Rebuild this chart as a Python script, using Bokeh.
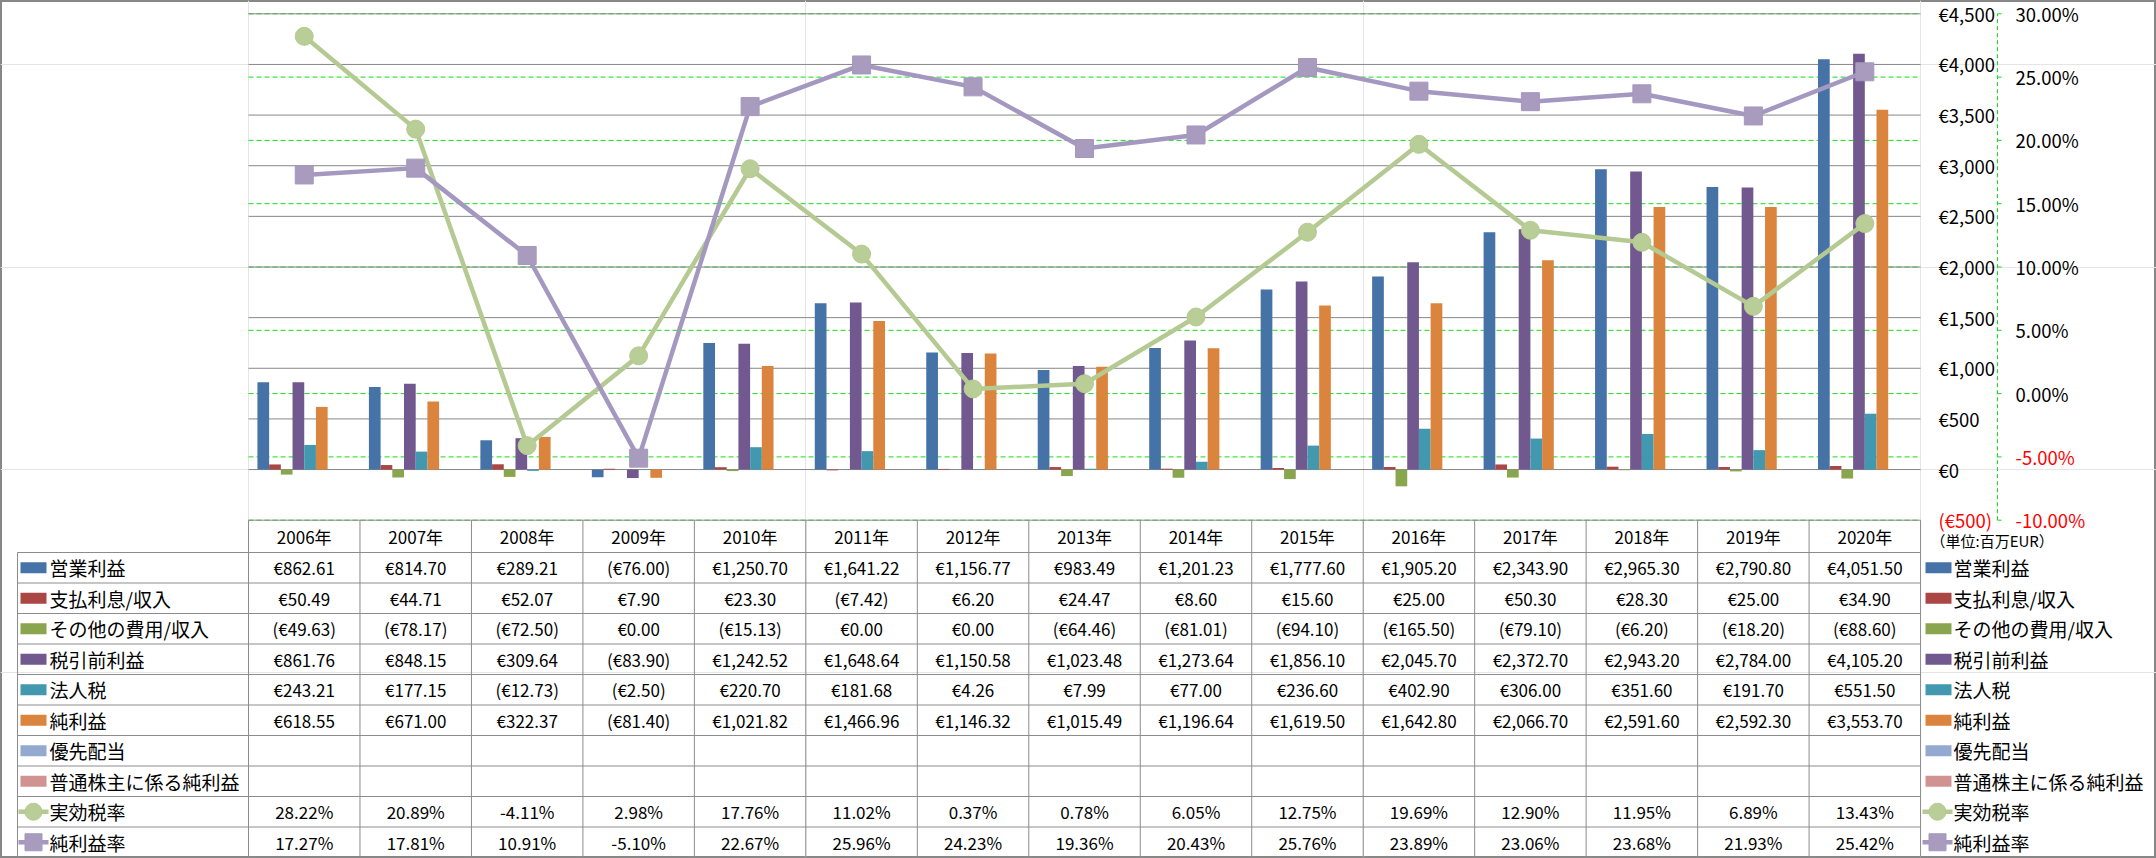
from bokeh.plotting import figure
from bokeh.models import Range1d
from bokeh.core.properties import value
from bokeh.embed import file_html
from bokeh.resources import INLINE

# ---------------- data ----------------
years = ["2006年", "2007年", "2008年", "2009年", "2010年", "2011年", "2012年", "2013年",
         "2014年", "2015年", "2016年", "2017年", "2018年", "2019年", "2020年"]
operating_income = [862.61, 814.70, 289.21, -76.00, 1250.70, 1641.22, 1156.77, 983.49,
                    1201.23, 1777.60, 1905.20, 2343.90, 2965.30, 2790.80, 4051.50]
interest = [50.49, 44.71, 52.07, 7.90, 23.30, -7.42, 6.20, 24.47,
            8.60, 15.60, 25.00, 50.30, 28.30, 25.00, 34.90]
other_expense = [-49.63, -78.17, -72.50, 0.00, -15.13, 0.00, 0.00, -64.46,
                 -81.01, -94.10, -165.50, -79.10, -6.20, -18.20, -88.60]
pretax_income = [861.76, 848.15, 309.64, -83.90, 1242.52, 1648.64, 1150.58, 1023.48,
                 1273.64, 1856.10, 2045.70, 2372.70, 2943.20, 2784.00, 4105.20]
income_tax = [243.21, 177.15, -12.73, -2.50, 220.70, 181.68, 4.26, 7.99,
              77.00, 236.60, 402.90, 306.00, 351.60, 191.70, 551.50]
net_income = [618.55, 671.00, 322.37, -81.40, 1021.82, 1466.96, 1146.32, 1015.49,
              1196.64, 1619.50, 1642.80, 2066.70, 2591.60, 2592.30, 3553.70]
preferred_dividends = []
net_income_common = []
effective_tax_rate = [28.22, 20.89, -4.11, 2.98, 17.76, 11.02, 0.37, 0.78,
                      6.05, 12.75, 19.69, 12.90, 11.95, 6.89, 13.43]
net_margin = [17.27, 17.81, 10.91, -5.10, 22.67, 25.96, 24.23, 19.36,
              20.43, 25.76, 23.89, 23.06, 23.68, 21.93, 25.42]

eur_ticks = [-500, 0, 500, 1000, 1500, 2000, 2500, 3000, 3500, 4000, 4500]
pct_ticks = [-10, -5, 0, 5, 10, 15, 20, 25, 30]
unit_label = "（単位:百万EUR）"

bar_series = [
    ("営業利益", operating_income, "#4572A7"),
    ("支払利息/収入", interest, "#AA4643"),
    ("その他の費用/収入", other_expense, "#89A54E"),
    ("税引前利益", pretax_income, "#71588F"),
    ("法人税", income_tax, "#4198AF"),
    ("純利益", net_income, "#DB843D"),
    ("優先配当", preferred_dividends, "#93A9CF"),
    ("普通株主に係る純利益", net_income_common, "#D19392"),
]
line_series = [
    ("実効税率", effective_tax_rate, "#B5CA92", "#B9CD96", "circle"),
    ("純利益率", net_margin, "#A598C0", "#A99BBD", "square"),
]

# ---------------- layout ----------------
W, H = 2156, 858
CW = 111.47            # px per category
X0 = 248               # fig px where category 0 starts
n = len(years)
FONT = value("Noto Sans CJK JP")


def cx(ref_x):
    return (ref_x - X0) / CW


TOP_PX, BOT_PX = 13.3, 519.7
eur_pp = 5000 / (BOT_PX - TOP_PX)
pct_pp = 40 / (BOT_PX - TOP_PX)
y_end = 4500 + TOP_PX * eur_pp
y_start = y_end - H * eur_pp
p_end = 30 + TOP_PX * pct_pp
p_start = p_end - H * pct_pp

p = figure(width=W, height=H, title=None,
           x_range=Range1d(-X0 / CW, (W - X0) / CW),
           y_range=Range1d(y_start, y_end),
           output_backend="svg", toolbar_location=None,
           x_axis_location=None, y_axis_location=None, min_border=0)
p.extra_y_ranges = {"pct": Range1d(p_start, p_end), "tbl": Range1d(H, 0)}
p.outline_line_color = "#878787"
p.outline_line_width = 3
p.background_fill_color = "white"
p.border_fill_color = "white"

GRAY = "#878787"
GREEN_GRID = "#10E010"

# gridlines
p.segment(x0=[0] * len(pct_ticks), x1=[n] * len(pct_ticks), y0=pct_ticks, y1=pct_ticks,
          y_range_name="pct", line_color=GREEN_GRID, line_dash="5 3", line_width=1)
gt = [t for t in eur_ticks if t > eur_ticks[0]]
p.segment(x0=[0] * len(gt), x1=[n] * len(gt), y0=gt, y1=gt,
          line_color=GRAY, line_width=1)

# bars
BW = 11.7 / CW
nb = len(bar_series)
for k, (name, vals, color) in enumerate(bar_series):
    if not vals:
        continue
    xs = [i + 0.5 + (k - (nb - 1) / 2) * BW for i in range(n)]
    p.vbar(x=xs, top=vals, bottom=0, width=BW, fill_color=color, line_color=None)

# lines
centers = [i + 0.5 for i in range(n)]
for name, vals, lc, mc, marker in line_series:
    p.line(x=centers, y=vals, y_range_name="pct", line_color=lc, line_width=4.5,
           line_join="round")
    p.scatter(x=centers, y=vals, y_range_name="pct", marker=marker, size=18,
              fill_color=mc, line_color=lc, line_width=1)


# axis labels (right side)
def eur_fmt(v):
    s = f"€{abs(v):,}"
    return f"({s})" if v < 0 else s


p.text(x=[cx(1938)] * len(eur_ticks), y=eur_ticks, text=[eur_fmt(t) for t in eur_ticks],
       text_color=["#FF0000" if t < 0 else "#000000" for t in eur_ticks],
       text_font=FONT, text_font_size=value("18.5px"), text_align="left", text_baseline="middle")
p.text(x=[cx(2015)] * len(pct_ticks), y=pct_ticks, y_range_name="pct",
       text=[f"{t:.2f}%" for t in pct_ticks],
       text_color=["#FF0000" if t < 0 else "#000000" for t in pct_ticks],
       text_font=FONT, text_font_size=value("18.5px"), text_align="left", text_baseline="middle")
ax_x = cx(1997)
p.segment(x0=[ax_x], x1=[ax_x], y0=[pct_ticks[0]], y1=[pct_ticks[-1]], y_range_name="pct",
          line_color=GREEN_GRID, line_dash="4 3", line_width=1)
p.segment(x0=[ax_x] * len(pct_ticks), x1=[cx(2001)] * len(pct_ticks), y0=pct_ticks,
          y1=pct_ticks, y_range_name="pct", line_color=GREEN_GRID, line_width=1)

# ---------------- data table ----------------
HDR_TOP, HDR_BOT, TBL_BOT = 519.7, 552, 857
n_rows = len(bar_series) + len(line_series)
ROW_H = (TBL_BOT - HDR_BOT) / n_rows
row_lines = [HDR_BOT + ROW_H * r for r in range(n_rows + 1)]
row_mid = [HDR_BOT + ROW_H * (r + 0.5) for r in range(n_rows)]
LEFT_BOX = cx(17)
TGRAY = "#8C8C8C"

p.segment(x0=[0], x1=[n], y0=[HDR_TOP], y1=[HDR_TOP], y_range_name="tbl",
          line_color=TGRAY, line_width=1)
p.segment(x0=[LEFT_BOX] * len(row_lines), x1=[n] * len(row_lines), y0=row_lines, y1=row_lines,
          y_range_name="tbl", line_color=TGRAY, line_width=1)
p.segment(x0=list(range(n + 1)), x1=list(range(n + 1)), y0=[HDR_TOP] * (n + 1),
          y1=[TBL_BOT] * (n + 1), y_range_name="tbl", line_color=TGRAY, line_width=1)
p.segment(x0=[LEFT_BOX], x1=[LEFT_BOX], y0=[HDR_BOT], y1=[TBL_BOT], y_range_name="tbl",
          line_color=TGRAY, line_width=1)

NUM_FS = value("17px")
JP_FS = value("19px")
p.text(x=centers, y=[(HDR_TOP + HDR_BOT) / 2] * n, text=years, y_range_name="tbl",
       text_font=FONT, text_font_size=NUM_FS, text_align="center", text_baseline="middle",
       text_color="#000000")


def money(v):
    s = f"€{abs(v):,.2f}"
    return f"({s})" if v < 0 else s


r = 0
for name, vals, color in bar_series:
    if vals:
        p.text(x=centers, y=[row_mid[r]] * n, text=[money(v) for v in vals], y_range_name="tbl",
               text_font=FONT, text_font_size=NUM_FS, text_align="center",
               text_baseline="middle", text_color="#000000")
    r += 1
for name, vals, lc, mc, marker in line_series:
    p.text(x=centers, y=[row_mid[r]] * n, text=[f"{v:.2f}%" for v in vals], y_range_name="tbl",
           text_font=FONT, text_font_size=NUM_FS, text_align="center",
           text_baseline="middle", text_color="#000000")
    r += 1

# legend keys (left column inside table and right column)
for side, sw0, sw1, txt_x, ln0, ln1 in [
        ("L", cx(20), cx(46), cx(49), cx(18), cx(48)),
        ("R", cx(1925), cx(1951), cx(1953), cx(1922), cx(1952))]:
    r = 0
    for name, vals, color in bar_series:
        p.rect(x=[(sw0 + sw1) / 2], y=[row_mid[r]], width=sw1 - sw0, height=11,
               y_range_name="tbl", fill_color=color, line_color=None)
        p.text(x=[txt_x], y=[row_mid[r]], text=[name], y_range_name="tbl", text_font=FONT,
               text_font_size=JP_FS, text_align="left", text_baseline="middle",
               text_color="#000000")
        r += 1
    for name, vals, lc, mc, marker in line_series:
        p.segment(x0=[ln0], x1=[ln1], y0=[row_mid[r]], y1=[row_mid[r]], y_range_name="tbl",
                  line_color=lc, line_width=4.5)
        p.scatter(x=[(ln0 + ln1) / 2], y=[row_mid[r]], y_range_name="tbl", marker=marker,
                  size=17, fill_color=mc, line_color=lc)
        p.text(x=[txt_x], y=[row_mid[r]], text=[name], y_range_name="tbl", text_font=FONT,
               text_font_size=JP_FS, text_align="left", text_baseline="middle",
               text_color="#000000")
        r += 1

p.text(x=[cx(1930)], y=[540], text=[unit_label], y_range_name="tbl", text_font=FONT,
       text_font_size=value("15px"), text_align="left", text_baseline="middle",
       text_color="#000000")

open("out.html", "w").write(file_html(p, INLINE))
